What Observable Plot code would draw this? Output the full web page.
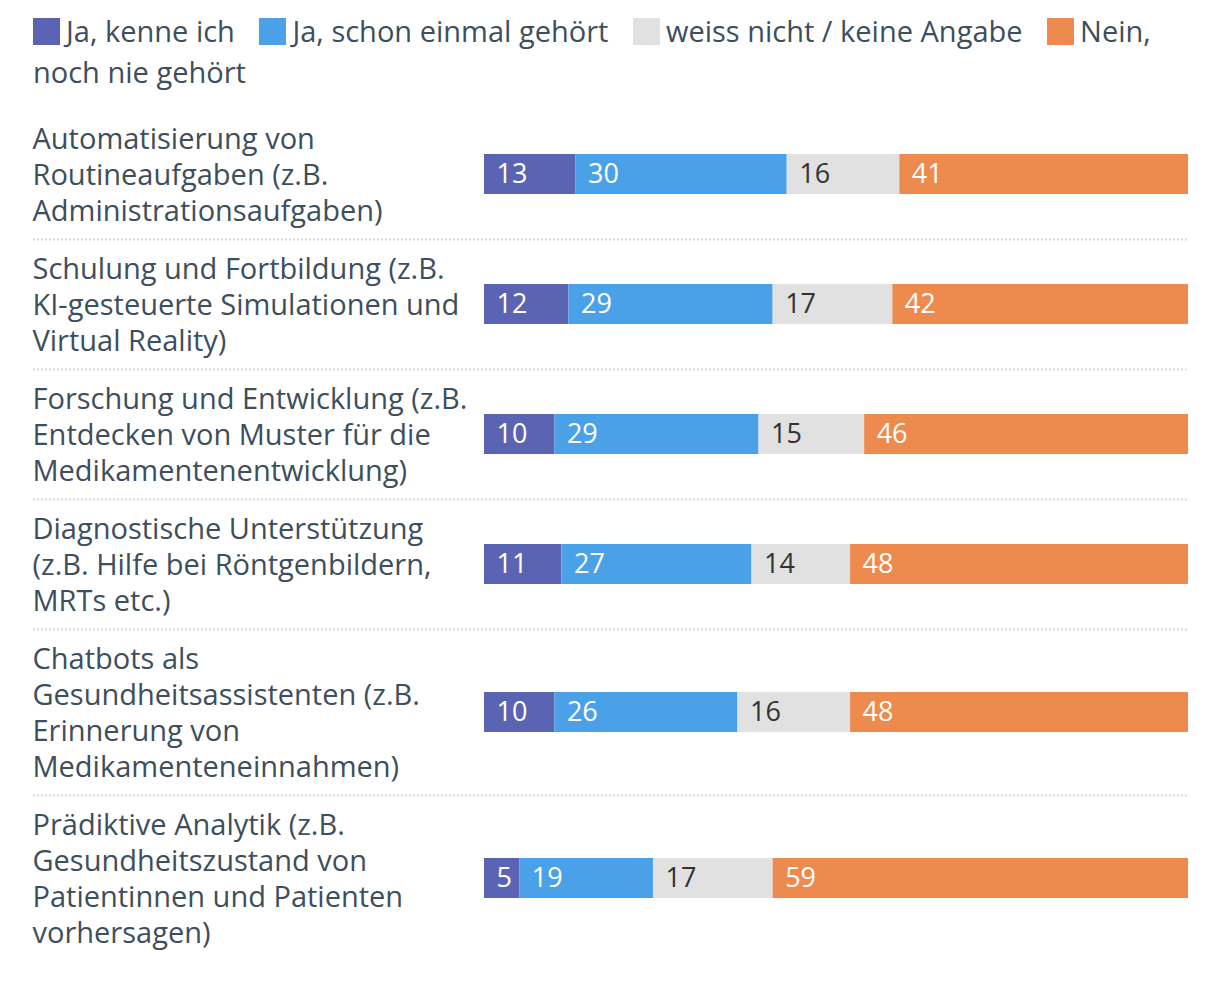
<!DOCTYPE html>
<html><head><meta charset="utf-8">
<script src="https://cdn.jsdelivr.net/npm/d3@7"></script>
<script src="https://cdn.jsdelivr.net/npm/@observablehq/plot@0.6"></script>
<style>
body{margin:0;background:#fff;font-family:"Open Sans",sans-serif;}
#legend{box-sizing:border-box;height:100px;padding:10px 40px 0 33px;font-size:29px;line-height:41px;color:#3d4e5c;}
#legend span.sw{display:inline-block;width:27px;height:27px;vertical-align:-3px;margin-right:6px;}
#legend span.last{margin-right:17px;}
</style></head>
<body>
<div id="legend"></div>
<div id="chart"></div>
<script>
const series = ["Ja, kenne ich", "Ja, schon einmal gehört", "weiss nicht / keine Angabe", "Nein, noch nie gehört"];
const colors = ["#5b64b3", "#4aa1e8", "#e1e1e1", "#ed8a4e"];
const labelColors = ["#ffffff", "#ffffff", "#333333", "#ffffff"];
const categories = [
  "Automatisierung von\nRoutineaufgaben (z.B.\nAdministrationsaufgaben)",
  "Schulung und Fortbildung (z.B.\nKI-gesteuerte Simulationen und\nVirtual Reality)",
  "Forschung und Entwicklung (z.B.\nEntdecken von Muster für die\nMedikamentenentwicklung)",
  "Diagnostische Unterstützung\n(z.B. Hilfe bei Röntgenbildern,\nMRTs etc.)",
  "Chatbots als\nGesundheitsassistenten (z.B.\nErinnerung von\nMedikamenteneinnahmen)",
  "Prädiktive Analytik (z.B.\nGesundheitszustand von\nPatientinnen und Patienten\nvorhersagen)"
];
const kenneIch     = [13, 12, 10, 11, 10, 5];
const schonGehoert = [30, 29, 29, 27, 26, 19];
const weissNicht   = [16, 17, 15, 14, 16, 17];
const nein         = [41, 42, 46, 48, 48, 59];
const values = [kenneIch, schonGehoert, weissNicht, nein];

// legend (each word its own span so wrapped items keep compact boxes)
document.getElementById("legend").innerHTML = series.map((s, i) => {
  const words = s.split(" ");
  return `<span class="sw" style="background:${colors[i]}"></span>` +
    words.map((w, j) => `<span${j === words.length - 1 ? ' class="last"' : ''}>${w}</span>`).join(" ");
}).join(" ");

// row layout derived from number of label lines
const lineH = 36, rowPad = 22, barH = 40;
let acc = 0;
const rows = categories.map((c) => {
  const n = c.split("\n").length;
  const h = n * lineH + rowPad;
  const r = {category: c, start: acc, end: acc + h, mid: acc + h / 2};
  acc += h;
  return r;
});
const totalH = acc;

const table = [];
rows.forEach((r, i) => {
  let x = 0;
  values.forEach((vals, s) => {
    const v = vals[i];
    table.push({row: i, series: series[s], s, value: v, x1: x, x2: x + v, y1: r.mid - barH / 2, y2: r.mid + barH / 2, mid: r.mid});
    x += v;
  });
});
const seps = rows.slice(0, -1).map(r => r.end);

const topPad = 9;
const chart = Plot.plot({
  width: 1220,
  height: topPad + totalH + 10,
  marginLeft: 32,
  marginRight: 32,
  marginTop: topPad,
  marginBottom: 10,
  x: {domain: [0, 100], range: [484, 1188], axis: null},
  y: {domain: [0, totalH], range: [topPad, topPad + totalH], axis: null},
  style: {fontFamily: "Open Sans, sans-serif"},
  marks: [
    Plot.ruleY(seps, {y: d => d, stroke: "#d9d9d9", strokeWidth: 2, strokeDasharray: "2,2", insetLeft: 1}),
    Plot.rect(table, {x1: "x1", x2: "x2", y1: "y1", y2: "y2", fill: d => colors[d.s]}),
    Plot.text(table, {x: "x1", y: "mid", text: d => String(d.value), fill: d => labelColors[d.s], textAnchor: "start", dx: 12, fontSize: 27}),
    Plot.text(rows, {y: "mid", text: "category", frameAnchor: "left", textAnchor: "start", lineAnchor: "middle", lineHeight: lineH / 29, fontSize: 29, fill: "#3d4e5c", dy: -1.5})
  ]
});
document.getElementById("chart").append(chart);
</script>
</body></html>
